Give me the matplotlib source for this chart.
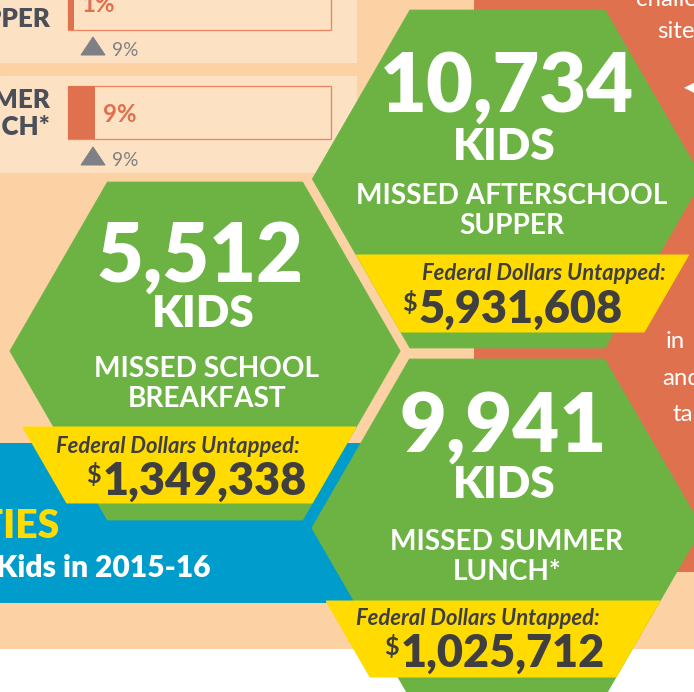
import numpy as np
import matplotlib
matplotlib.use('Agg')
import matplotlib.pyplot as plt
from matplotlib.patches import Polygon, Rectangle

# data
kids = [5512, 10734, 9941]
program_lines = [["MISSED SCHOOL", "BREAKFAST"],
                 ["MISSED AFTERSCHOOL", "SUPPER"],
                 ["MISSED SUMMER", "LUNCH*"]]
dollars = [1349338, 5931608, 1025712]
bar_names = [["SUPPER"], ["SUMMER", "LUNCH*"]]
bar_pct = [1, 9]
bar_change = [9, 9]

# colours
PEACH = '#FCD2A5'
LIGHT = '#FDE1C3'
GREEN = '#6CB344'
ORANGE = '#E0714F'
BLUE = '#009CCB'
YELLOW = '#FFDB00'
DARK = '#3F3F3F'
LABEL = '#4A4F59'
GRAY = '#7F8085'

W, H = 694, 692
FONT = 'Lato'

fig = plt.figure(figsize=(W / 72, H / 72), dpi=72)
ax = fig.add_axes([0, 0, 1, 1])
ax.set_xlim(0, W)
ax.set_ylim(H, 0)
ax.axis('off')
fig.patch.set_facecolor('white')

S3 = np.sqrt(3)


def hexagon(cx, cy, r):
    ang = np.radians(np.arange(0, 360, 60))
    return np.column_stack([cx + r * np.cos(ang), cy + r * np.sin(ang)])


def ribbon(cx, cy, r, y0, y1, ext_l, ext_r):
    # band across the lower half of a hexagon, sides parallel to the hex edges
    def left(y):
        return cx - r + (y - cy) / S3 - ext_l

    def right(y):
        return cx + r - (y - cy) / S3 + ext_r
    return [(left(y0), y0), (right(y0), y0), (right(y1), y1), (left(y1), y1)]


# background blocks
ax.add_patch(Rectangle((0, 0), W, 648, color=PEACH, zorder=0))
ax.add_patch(Rectangle((474, 0), W - 474, 571, color=ORANGE, zorder=1))
ax.add_patch(Rectangle((0, -5), 356, 67, color=LIGHT, zorder=1))
ax.add_patch(Rectangle((0, 76), 356, 96, color=LIGHT, zorder=1))
ax.add_patch(Rectangle((0, 443), 420, 159, color=BLUE, zorder=1))

# bars in the top-left panel
bar_boxes = [(-10, 30), (86, 139)]
bar_x0, bar_x1 = 68, 331
for i, (ytop, ybot) in enumerate(bar_boxes):
    ax.add_patch(Rectangle((bar_x0, ytop), bar_x1 - bar_x0, ybot - ytop,
                           facecolor=LIGHT, edgecolor='#E88663', lw=1.3, zorder=2))
    fill_w = bar_pct[i] / 100 * (bar_x1 - bar_x0) + 3
    ax.add_patch(Rectangle((bar_x0, ytop), fill_w, ybot - ytop,
                           facecolor=ORANGE, edgecolor='none', zorder=3))

pct_base = [12, 122]
for i in range(2):
    ax.text(bar_x0 + max(bar_pct[i] / 100 * (bar_x1 - bar_x0) + 3, 5) + 8, pct_base[i],
            f"{bar_pct[i]}%", color=ORANGE, fontsize=24, fontweight='bold',
            family=FONT, va='baseline', ha='left', zorder=4)

tri_base = [55, 165]
for i in range(2):
    yb = tri_base[i]
    ax.add_patch(Polygon([(81, yb), (105, yb), (93, yb - 18)], closed=True,
                         color=GRAY, zorder=4))
    ax.text(112, yb + 0.5, f"{bar_change[i]}%", color=GRAY, fontsize=19,
            family=FONT, va='baseline', ha='left', zorder=4)

name_base = [[27], [108, 135]]
for i in range(2):
    for name, yb in zip(bar_names[i], name_base[i]):
        ax.text(50, yb, name, color=LABEL, fontsize=26, fontweight='heavy',
                family=FONT, va='baseline', ha='right', zorder=4)

# text on the orange panel (cut off at the edge)
orange_txt = [("challenge", 636, 6), ("sites", 657, 38), ("in", 666, 348),
              ("and", 662, 385), ("ta", 673, 421)]
for t, x, y in orange_txt:
    ax.text(x, y, t, color='white', fontsize=24, family=FONT,
            va='baseline', ha='left', zorder=2)
ax.text(684, 92, "\u25C0", color='white', fontsize=16, family='DejaVu Sans',
        va='baseline', ha='left', zorder=2)

# blue banner text
ax.text(60, 538, "OPPORTUNITIES", color=YELLOW, fontsize=39, fontweight='heavy',
        family=FONT, va='baseline', ha='right', zorder=2)
ax.text(-4, 577, "Kids in 2015-16", color='white', fontsize=30,
        fontweight='heavy', family=FONT, va='baseline', ha='left', zorder=2)

# hexagons
hex_pos = [(205, 351), (507.5, 179), (507, 528)]
R = 195
ribbon_y = [(427, 503), (255, 332), (601, 677)]
ribbon_ext = [(31, 0), (0, 30), (28, 0)]
hex_order = [0, 2, 1]
for k in hex_order:
    cx, cy = hex_pos[k]
    ax.add_patch(Polygon(hexagon(cx, cy, R), closed=True, color=GREEN, zorder=3))
    y0, y1 = ribbon_y[k]
    el, er = ribbon_ext[k]
    ax.add_patch(Polygon(ribbon(cx, cy, R, y0, y1, el, er), closed=True,
                         color=YELLOW, zorder=4))

# hex texts: baselines and centres
num_xy = [(200, 282), (507, 112), (503, 452)]
kids_xy = [(203, 327), (504, 160), (504, 498)]
line_x = [207, 512, 507]
line_y = [(377, 407), (204, 234), (550, 580)]
fed_xy = [(178, 453), (544, 280), (478, 625)]
money_xy = [(205, 495), (521, 323), (503, 667)]

money_texts = []
for k in range(3):
    ax.text(*num_xy[k], f"{kids[k]:,}", color='white', fontsize=81,
            fontweight='heavy', family=FONT, ha='center', va='baseline', zorder=5)
    ax.text(*kids_xy[k], "KIDS", color='white', fontsize=44,
            fontweight='heavy', family=FONT, ha='center', va='baseline', zorder=5)
    for line, yb in zip(program_lines[k], line_y[k]):
        ax.text(line_x[k], yb, line, color='white', fontsize=28,
                fontweight='bold', family=FONT, ha='center', va='baseline', zorder=5)
    ax.text(*fed_xy[k], "Federal Dollars Untapped:", color=DARK, fontsize=22,
            fontweight='bold', fontstyle='italic', family=FONT,
            ha='center', va='baseline', zorder=5)
    t = ax.text(*money_xy[k], f"{dollars[k]:,}", color=DARK, fontsize=45,
                fontweight='heavy', family=FONT, ha='center', va='baseline', zorder=5)
    money_texts.append(t)

fig.canvas.draw()
inv = ax.transData.inverted()
for k, t in enumerate(money_texts):
    bb = t.get_window_extent()
    (x_left, _), = inv.transform([(bb.x0, bb.y0)])
    ax.text(x_left - 2, money_xy[k][1] - 32, "$", color=DARK, fontsize=25,
            fontweight='bold', family=FONT, ha='right', va='top', zorder=5)

fig.savefig('out.png', dpi=72, facecolor='white')
